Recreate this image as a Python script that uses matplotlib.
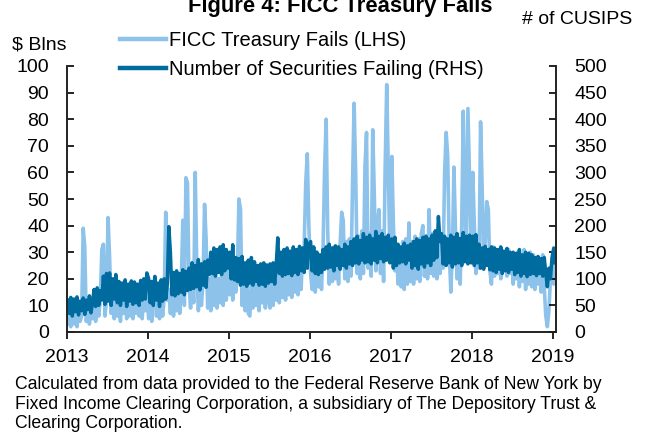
import numpy as np
import pandas as pd
import matplotlib
matplotlib.use("Agg")
import matplotlib.pyplot as plt
import matplotlib.dates as mdates

plt.rcParams['font.family'] = ['Liberation Sans', 'DejaVu Sans']

# weekly readings, FICC Treasury fails ($ bn, LHS)
fails_2013 = [3, 8, 2, 7, 3, 9, 2, 8, 4, 6, 39, 32, 4, 10, 3, 9, 5, 11, 4, 10, 6, 12,
              31, 33, 6, 12, 43, 28, 7, 14, 5, 13, 6, 12, 4, 14, 7, 13, 5, 12, 6, 15,
              5, 13, 7, 14, 6, 12, 5, 14, 8, 15]
fails_2014 = [5, 14, 4, 15, 21, 6, 13, 5, 14, 6, 13, 45, 12, 16, 7, 17, 6, 15, 8, 17,
              7, 18, 42, 10, 58, 56, 18, 9, 26, 11, 60, 24, 8, 17, 10, 19, 48, 35,
              9, 20, 8, 21, 10, 22, 9, 20, 11, 23, 10, 22, 12, 24]
fails_2015 = [14, 26, 12, 28, 15, 24, 50, 46, 10, 22, 8, 20, 7, 6, 19, 9, 22, 10, 21,
              8, 23, 11, 22, 9, 24, 12, 9, 22, 10, 24, 12, 25, 11, 26, 13, 27, 12, 25,
              14, 28, 13, 27, 15, 29, 14, 28, 16, 30, 32, 56, 67, 40]
fails_2016 = [22, 16, 28, 15, 30, 17, 29, 16, 31, 61, 80, 38, 18, 30, 19, 32, 20, 31,
              18, 33, 45, 42, 20, 34, 19, 35, 21, 56, 86, 60, 22, 36, 20, 38, 22, 62,
              75, 24, 37, 21, 76, 52, 23, 40, 46, 22, 38, 19, 62, 93, 62, 30]
fails_2017 = [66, 41, 23, 33, 18, 32, 17, 34, 16, 35, 18, 41, 19, 34, 18, 36, 20, 35,
              19, 37, 40, 21, 36, 20, 46, 22, 37, 21, 38, 20, 39, 22, 36, 24, 60, 75,
              66, 30, 15, 30, 62, 38, 20, 35, 18, 40, 83, 45, 30, 84, 60, 35]
fails_2018 = [60, 40, 22, 35, 24, 79, 55, 25, 34, 49, 46, 23, 18, 32, 21, 30, 22, 31,
              20, 29, 23, 30, 21, 31, 22, 29, 18, 28, 20, 30, 17, 29, 19, 31, 16, 28,
              18, 30, 17, 29, 16, 28, 18, 27, 15, 29, 17, 6, 2, 8, 20, 26]
fails_2019 = [18, 25]

# weekly readings, number of securities failing (# of CUSIPs, RHS)
cusips_2013 = [60, 35, 65, 30, 62, 38, 66, 32, 58, 40, 64, 33, 60, 42, 68, 36, 55, 80,
               48, 83, 50, 78, 60, 105, 52, 110, 58, 111, 50, 100, 62, 108, 55, 95, 50,
               92, 60, 98, 48, 90, 58, 96, 52, 94, 55, 90, 50, 97, 60, 100, 62, 111]
cusips_2014 = [100, 55, 95, 50, 104, 60, 92, 48, 98, 58, 100, 62, 90, 198, 150, 70, 112,
               68, 115, 72, 110, 75, 117, 70, 114, 78, 120, 80, 130, 82, 125, 85, 136,
               79, 128, 88, 132, 84, 135, 108, 150, 110, 158, 105, 155, 112, 160, 108,
               164, 115, 155, 120]
cusips_2015 = [150, 100, 164, 98, 140, 95, 138, 88, 142, 90, 130, 86, 135, 92, 140, 88,
               132, 95, 125, 88, 128, 90, 130, 86, 126, 92, 128, 95, 130, 90, 127, 177,
               110, 150, 105, 155, 108, 158, 110, 152, 106, 160, 112, 155, 108, 161, 115,
               158, 112, 174, 120, 165]
cusips_2016 = [170, 115, 160, 110, 150, 108, 145, 112, 155, 118, 160, 120, 165, 122, 158,
               115, 162, 125, 160, 118, 155, 125, 165, 120, 160, 128, 170, 125, 175, 130,
               180, 128, 172, 135, 185, 130, 178, 132, 182, 128, 175, 135, 189, 130, 180,
               138, 185, 132, 178, 135, 182, 130]
cusips_2017 = [175, 120, 178, 125, 165, 130, 160, 132, 167, 128, 162, 135, 165, 120, 170,
               125, 175, 118, 172, 128, 178, 122, 180, 130, 175, 125, 182, 135, 190, 140,
               217, 170, 185, 128, 180, 125, 175, 130, 182, 122, 178, 128, 185, 130, 176,
               125, 187, 132, 180, 128, 182, 130]
cusips_2018 = [180, 125, 183, 130, 165, 120, 158, 118, 161, 125, 155, 117, 160, 115, 158,
               112, 155, 118, 160, 110, 152, 115, 157, 112, 150, 118, 150, 108, 148, 112,
               155, 105, 145, 110, 150, 104, 148, 108, 145, 110, 140, 106, 142, 110, 138,
               105, 140, 110, 85, 120, 100, 140]
cusips_2019 = [158, 130]

years = [2013, 2014, 2015, 2016, 2017, 2018]
dates = [pd.date_range(f"{yr}-01-04", periods=52, freq="7D") for yr in years]
dates.append(pd.to_datetime(["2019-01-04", "2019-01-10"]))
dates = pd.DatetimeIndex(np.concatenate([d.values for d in dates]))

fails = fails_2013 + fails_2014 + fails_2015 + fails_2016 + fails_2017 + fails_2018 + fails_2019
cusips = cusips_2013 + cusips_2014 + cusips_2015 + cusips_2016 + cusips_2017 + cusips_2018 + cusips_2019

light = "#8DC3EB"
dark = "#006B9F"

fig = plt.figure(figsize=(6.47, 4.34), dpi=100)
ax = fig.add_axes([67 / 647, 1 - 332 / 434, (556 - 67) / 647, (332 - 66) / 434])
ax2 = ax.twinx()

ax.plot(dates, fails, color=light, lw=2.6)
ax2.plot(dates, cusips, color=dark, lw=2.5)

ax.set_ylim(0, 100)
ax2.set_ylim(0, 500)
ax.set_yticks(np.arange(0, 101, 10))
ax2.set_yticks(np.arange(0, 501, 50))
ax.set_xlim(pd.Timestamp("2013-01-01"), pd.Timestamp("2019-01-14"))
ax.xaxis.set_major_locator(mdates.YearLocator())
ax.xaxis.set_major_formatter(mdates.DateFormatter("%Y"))

for a in (ax, ax2):
    a.spines["top"].set_visible(False)
    for s in ("left", "right", "bottom"):
        a.spines[s].set_linewidth(1.2)
        a.spines[s].set_color("#222222")
ax.tick_params(axis="y", direction="in", length=5, pad=13, labelsize=14, width=1.2)
ax2.tick_params(axis="y", direction="in", length=5, pad=13, labelsize=14, width=1.2)
ax.tick_params(axis="x", direction="out", length=5, pad=7.5, labelsize=14, width=1.2)

h1 = plt.Line2D([], [], color=light, lw=3.2)
h2 = plt.Line2D([], [], color=dark, lw=3.2)
fig.legend([h1, h2], ["FICC Treasury Fails (LHS)", "Number of Securities Failing (RHS)"],
           loc="upper left", bbox_to_anchor=(120 / 647, 1 - 31 / 434), frameon=False,
           fontsize=14.5, handlelength=2.3, handletextpad=0.15, borderpad=0,
           borderaxespad=0, labelspacing=0.5)

# the title sits partly above the top edge, as in the source figure
fig.text(340 / 647, 1 - 12 / 434, "Figure 4: FICC Treasury Fails", ha="center",
         va="baseline", fontsize=15.8, fontweight="bold")
fig.text(577 / 647, 1 - 19 / 434, "# of CUSIPS", ha="center", va="center", fontsize=14)
fig.text(39 / 647, 1 - 45 / 434, "$ Blns", ha="center", va="center", fontsize=14)
fig.text(15 / 647, 1 - 376 / 434,
         "Calculated from data provided to the Federal Reserve Bank of New York by\n"
         "Fixed Income Clearing Corporation, a subsidiary of The Depository Trust &\n"
         "Clearing Corporation.", ha="left", va="top", fontsize=12.7, linespacing=1.2)

fig.savefig("out.png", dpi=100)
